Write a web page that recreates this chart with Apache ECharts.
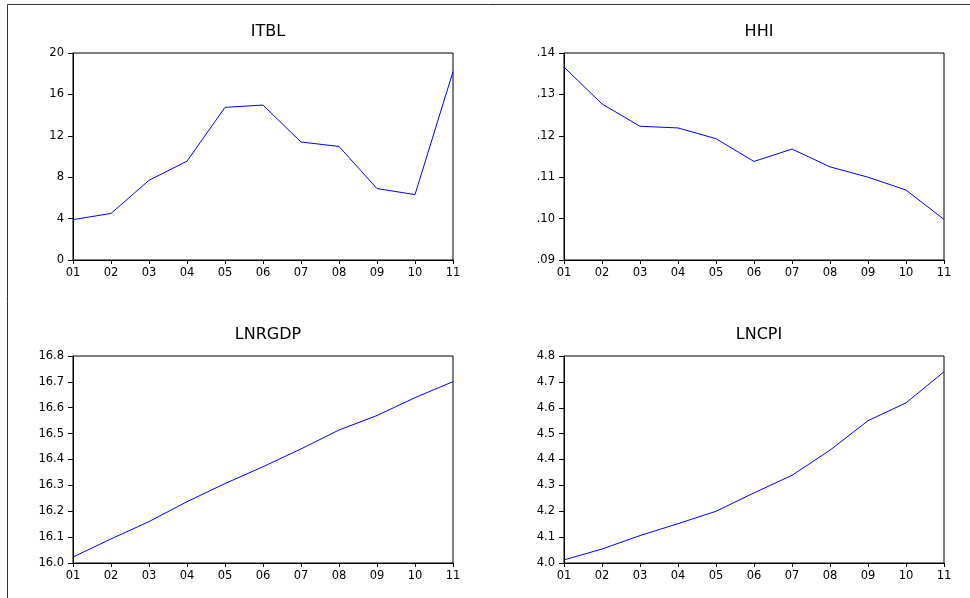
<!DOCTYPE html>
<html>
<head>
<meta charset="utf-8">
<title>ITBL, HHI, LNRGDP, LNCPI</title>
<script src="https://cdn.jsdelivr.net/npm/echarts@6/dist/echarts.min.js"></script>
<style>
  html, body { margin: 0; padding: 0; background: #ffffff; }
  #chart { width: 970px; height: 598px; }
</style>
</head>
<body>
<div id="chart"></div>
<script>
// Years 2001–2011, shown as two-digit labels
const years = ['01', '02', '03', '04', '05', '06', '07', '08', '09', '10', '11'];

// Series values
const itbl   = [3.9, 4.5, 7.7, 9.55, 14.75, 14.97, 11.4, 10.97, 6.9, 6.32, 18.2];
const hhi    = [0.1366, 0.1277, 0.1223, 0.1219, 0.1193, 0.1138, 0.1168, 0.1125, 0.1100, 0.1069, 0.0998];
const lnrgdp = [16.023, 16.093, 16.160, 16.237, 16.307, 16.372, 16.441, 16.514, 16.570, 16.639, 16.701];
const lncpi  = [4.012, 4.054, 4.106, 4.152, 4.200, 4.271, 4.339, 4.436, 4.550, 4.619, 4.739];

// Panel titles and value-axis ranges
const panelNames = ['ITBL', 'HHI', 'LNRGDP', 'LNCPI'];
const panelData  = [itbl, hhi, lnrgdp, lncpi];
const yMin       = [0, 0.09, 16.0, 4.0];
const yMax       = [20, 0.14, 16.8, 4.8];
const yStep      = [4, 0.01, 0.1, 0.1];
const yFormat = [
  v => String(Math.round(v)),
  v => v.toFixed(2).replace(/^0/, ''),
  v => v.toFixed(1),
  v => v.toFixed(1)
];

// Panel boxes in pixels
const boxes = [
  { left: 73,  top: 53,  width: 380, height: 207 },
  { left: 564, top: 53,  width: 380, height: 207 },
  { left: 73,  top: 356, width: 380, height: 207 },
  { left: 564, top: 356, width: 380, height: 207 }
];

const font = '"DejaVu Sans", Arial, Helvetica, sans-serif';
const chart = echarts.init(document.getElementById('chart'), null, { renderer: 'canvas' });

const grids = [], xAxes = [], yAxes = [], series = [], titles = [];
boxes.forEach((b, i) => {
  grids.push({
    left: b.left, top: b.top, width: b.width, height: b.height,
    show: true, borderColor: '#000000', borderWidth: 1, backgroundColor: 'transparent'
  });
  xAxes.push({
    type: 'category', gridIndex: i, data: years, boundaryGap: false,
    axisLine: { show: true, lineStyle: { color: '#000000', width: 1 } },
    axisTick: { show: true, inside: false, length: 4, alignWithLabel: true,
                lineStyle: { color: '#000000', width: 1 } },
    axisLabel: { margin: 7, color: '#000000', fontFamily: font, fontSize: 11.5, interval: 0 },
    splitLine: { show: false }
  });
  yAxes.push({
    type: 'value', gridIndex: i, min: yMin[i], max: yMax[i], interval: yStep[i],
    axisLine: { show: true, onZero: false, lineStyle: { color: '#000000', width: 1 } },
    axisTick: { show: true, inside: false, length: 5, lineStyle: { color: '#000000', width: 1 } },
    axisLabel: { margin: 9, color: '#000000', fontFamily: font, fontSize: 11.5, formatter: yFormat[i] },
    splitLine: { show: false }
  });
  series.push({
    type: 'line', name: panelNames[i], xAxisIndex: i, yAxisIndex: i,
    data: panelData[i], showSymbol: false, symbol: 'none', animation: false,
    lineStyle: { color: '#0000ff', width: 1 }
  });
  titles.push({
    text: panelNames[i], left: b.left + b.width / 2, top: b.top - 34,
    textAlign: 'center',
    textStyle: { fontFamily: font, fontSize: 16, fontWeight: 'normal', color: '#000000' }
  });
});

chart.setOption({
  backgroundColor: '#ffffff',
  animation: false,
  title: titles,
  grid: grids,
  xAxis: xAxes,
  yAxis: yAxes,
  series: series,
  graphic: [
    // outer frame (top and left edges)
    { type: 'line', shape: { x1: 7.5, y1: 4.5, x2: 970, y2: 4.5 },
      style: { stroke: '#333333', lineWidth: 1 }, silent: true },
    { type: 'line', shape: { x1: 7.5, y1: 4.5, x2: 7.5, y2: 598 },
      style: { stroke: '#333333', lineWidth: 1 }, silent: true }
  ]
});
</script>
</body>
</html>
